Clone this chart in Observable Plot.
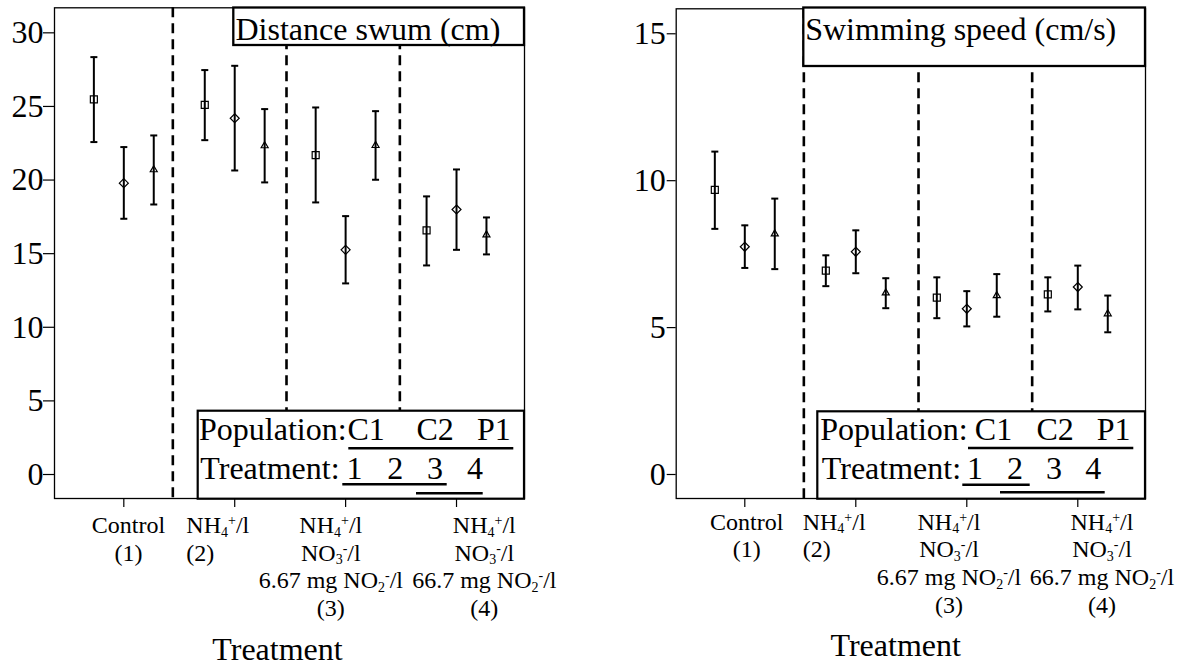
<!DOCTYPE html>
<html>
<head>
<meta charset="utf-8">
<script src="https://cdn.jsdelivr.net/npm/d3@7"></script>
<script src="https://cdn.jsdelivr.net/npm/@observablehq/plot@0.6"></script>
<style>
  html, body { margin: 0; padding: 0; background: #fff; }
  #wrap { width: 1184px; height: 666px; display: flex; }
  #wrap svg { overflow: visible; display: block; }
</style>
</head>
<body>
<div id="wrap"></div>
<script>
const FONT = "'Liberation Serif', 'Times New Roman', serif";

// ---- categories ----
const treatments = [1, 2, 3, 4];
const populations = ["C1", "C2", "P1"];
const treatmentLabels = [
  ["Control", "(1)"],
  ["NH{_4}{^+}/l", "(2)"],
  ["NH{_4}{^+}/l", "NO{_3}{^-}/l", "6.67 mg NO{_2}{^-}/l", "(3)"],
  ["NH{_4}{^+}/l", "NO{_3}{^-}/l", "66.7 mg NO{_2}{^-}/l", "(4)"]
];

// ---- Distance swum (cm): rows = C1, C2, P1; columns = treatments 1..4 ----
const distMean = [
  [25.48, 25.11, 21.69, 16.58],
  [19.79, 24.20, 15.26, 18.00],
  [20.70, 22.33, 22.35, 16.28]
];
const distLow = [
  [22.58, 22.71, 18.48, 14.20],
  [17.37, 20.65, 12.98, 15.26],
  [18.34, 19.84, 20.02, 14.95]
];
const distHigh = [
  [28.35, 27.47, 24.93, 18.89],
  [22.24, 27.76, 17.55, 20.72],
  [23.03, 24.82, 24.68, 17.46]
];
const distTicks = [0, 5, 10, 15, 20, 25, 30];
const distDividers = [1.442, 2.467, 3.489];

// ---- Swimming speed (cm/s) ----
const speedMean = [
  [9.69, 6.94, 6.02, 6.13],
  [7.75, 7.58, 5.64, 6.38],
  [8.19, 6.18, 6.09, 5.47]
];
const speedLow = [
  [8.36, 6.41, 5.32, 5.55],
  [7.03, 6.85, 5.04, 5.62],
  [6.99, 5.66, 5.37, 4.84]
];
const speedHigh = [
  [10.99, 7.46, 6.71, 6.71],
  [8.48, 8.31, 6.24, 7.11],
  [9.39, 6.68, 6.82, 6.09]
];
const speedTicks = [0, 5, 10, 15];
const speedDividers = [1.532, 2.565, 3.589];

const legendPopTokens = ["Population:", "C1", "C2", "P1"];
const legendTrtTokens = ["Treatment:", "1", "2", "3", "4"];

// ---- styling / layout ----
const popSymbols = ["square", "diamond2", "triangle"];
const popR = [3.95, 4.05, 2.6];
const popDodge = [-0.27, 0, 0.27];
const capSymbol = { draw(ctx, size) { const w = Math.sqrt(size) / 2; ctx.moveTo(-w, 0); ctx.lineTo(w, 0); } };

function buildRows(mean, low, high) {
  const out = [];
  populations.forEach((p, i) => treatments.forEach((t, j) =>
    out.push({ pop: p, pi: i, t, mean: mean[i][j], low: low[i][j], high: high[i][j] })));
  return out;
}

function appendRich(text, str) {
  const parts = str.split(/(\{[_^][^}]*\})/).filter(s => s.length);
  let shift = 0;
  for (const p of parts) {
    const m = p.match(/^\{([_^])(.*)\}$/);
    if (m) {
      const target = m[1] === "_" ? 3.5 : -8;
      text.append("tspan").attr("font-size", 14).attr("dy", target - shift).text(m[2]);
      shift = target;
    } else {
      text.append("tspan").attr("dy", -shift).text(p);
      shift = 0;
    }
  }
}

function panel(cfg) {
  const data = buildRows(cfg.mean, cfg.low, cfg.high);
  const X = d => d.t + popDodge[d.pi];
  const plot = Plot.plot({
    width: 592, height: 666,
    marginLeft: cfg.mL, marginRight: cfg.mR, marginTop: cfg.mT, marginBottom: cfg.mB,
    x: { domain: cfg.xDomain },
    y: { domain: cfg.yDomain },
    style: { fontFamily: FONT, fontSize: "32px", color: "black", background: "white", overflow: "visible" },
    marks: [
      Plot.ruleX(cfg.dividers, { stroke: "black", strokeWidth: 2.6, strokeDasharray: "10,6" }),
      Plot.frame({ stroke: "black", strokeWidth: 1.3 }),
      Plot.axisY({ ticks: cfg.yTicks, tickSize: cfg.yTickSize, tickPadding: cfg.yTickPad, label: null, stroke: "black", strokeWidth: 1.2 }),
      Plot.axisX({ ticks: treatments, tickSize: 9, tickFormat: () => "", label: null, stroke: "black", strokeWidth: 1.2 }),
      Plot.ruleX(data, { x: X, y1: "low", y2: "high", stroke: "black", strokeWidth: 2 }),
      Plot.dot(data, { x: X, y: "low", symbol: capSymbol, r: 3.95, stroke: "black", strokeWidth: 2, fill: "none" }),
      Plot.dot(data, { x: X, y: "high", symbol: capSymbol, r: 3.95, stroke: "black", strokeWidth: 2, fill: "none" }),
      ...populations.map((p, i) => Plot.dot(data.filter(d => d.pi === i), {
        x: X, y: "mean", symbol: popSymbols[i], r: popR[i], stroke: "black", strokeWidth: 1.2, fill: "none"
      }))
    ]
  });
  const xs = plot.scale("x");
  const svg = d3.select(plot);

  // x tick labels
  const lg = svg.append("g").attr("font-family", FONT).attr("font-size", 24).attr("fill", "black");
  treatments.forEach((t, i) => {
    const x0 = xs.apply(t) + cfg.labDx[i];
    treatmentLabels[i].forEach((line, j) => {
      const tx = lg.append("text").attr("x", x0).attr("y", cfg.labBase + j * cfg.labStep)
        .attr("text-anchor", cfg.labAnchor[i]);
      appendRich(tx, line);
    });
  });

  // axis title
  svg.append("text").attr("x", cfg.xTitle[0]).attr("y", cfg.xTitle[1])
    .attr("text-anchor", "middle").attr("font-family", FONT).attr("font-size", 32).attr("fill", "black")
    .text("Treatment");

  // title box
  const tb = cfg.titleBox;
  svg.append("rect").attr("x", tb[0]).attr("y", tb[1]).attr("width", tb[2] - tb[0]).attr("height", tb[3] - tb[1])
    .attr("fill", "white").attr("stroke", "black").attr("stroke-width", 2.3);
  svg.append("text").attr("x", cfg.titlePos[0]).attr("y", cfg.titlePos[1]).attr("text-anchor", "start")
    .attr("font-family", FONT).attr("font-size", 32).attr("fill", "black").text(cfg.title);

  // legend box
  const b = cfg.legBox;
  const g = svg.append("g").attr("font-family", FONT).attr("font-size", 32).attr("fill", "black")
    .attr("text-anchor", "start");
  g.append("rect").attr("x", b[0]).attr("y", b[1]).attr("width", b[2] - b[0]).attr("height", b[3] - b[1])
    .attr("fill", "white").attr("stroke", "black").attr("stroke-width", 2.2);
  legendPopTokens.forEach((s, i) => g.append("text").attr("x", cfg.popX[i]).attr("y", cfg.popY).text(s));
  legendTrtTokens.forEach((s, i) => g.append("text").attr("x", cfg.trtX[i]).attr("y", cfg.trtY).text(s));
  cfg.underlines.forEach(([x1, x2, y]) =>
    g.append("line").attr("x1", x1).attr("x2", x2).attr("y1", y).attr("y2", y)
      .attr("stroke", "black").attr("stroke-width", 2.5));
  return plot;
}

const wrap = document.getElementById("wrap");

wrap.appendChild(panel({
  mean: distMean, low: distLow, high: distHigh, yTicks: distTicks, dividers: distDividers,
  mL: 54, mR: 68, mT: 7.3, mB: 168,
  xDomain: [0.375, 4.613], yDomain: [-1.63, 31.7],
  yTickSize: 11, yTickPad: 0,
  labDx: [5.2, -47.9, -14.3, 28.3], labAnchor: ["middle", "start", "middle", "middle"],
  labBase: 533, labStep: 27.7,
  xTitle: [277.5, 659.7],
  title: "Distance swum (cm)", titleBox: [233.3, 7.5, 524, 45], titlePos: [235.5, 39.5],
  legBox: [197.7, 410.7, 524, 498.7],
  popX: [199, 347.5, 416.5, 477], popY: 440.3,
  trtX: [200.3, 346.4, 387.3, 427, 467], trtY: 478.7,
  underlines: [[348.3, 513.3, 448.3], [342.3, 446.7, 484.3], [416, 482.7, 493.3]]
}));

wrap.appendChild(panel({
  mean: speedMean, low: speedLow, high: speedHigh, yTicks: speedTicks, dividers: speedDividers,
  mL: 83.7, mR: 39, mT: 8.3, mB: 168,
  xDomain: [0.382, 4.61], yDomain: [-0.817, 15.85],
  yTickSize: 9, yTickPad: 1.5,
  labDx: [2.4, -52.6, -17.3, 24.7], labAnchor: ["middle", "start", "middle", "middle"],
  labBase: 529.5, labStep: 27.9,
  xTitle: [303.7, 656.3],
  title: "Swimming speed (cm/s)", titleBox: [211.3, 7.5, 553, 66], titlePos: [213.2, 39.5],
  legBox: [225.3, 411.3, 553, 498.7],
  popX: [228.2, 382.8, 444.4, 504.8], popY: 440.3,
  trtX: [229.8, 375.1, 415, 454, 493.3], trtY: 478.7,
  underlines: [[376, 541.3, 448], [370.3, 437.7, 484.7], [408, 512.7, 492.3]]
}));
</script>
</body>
</html>
